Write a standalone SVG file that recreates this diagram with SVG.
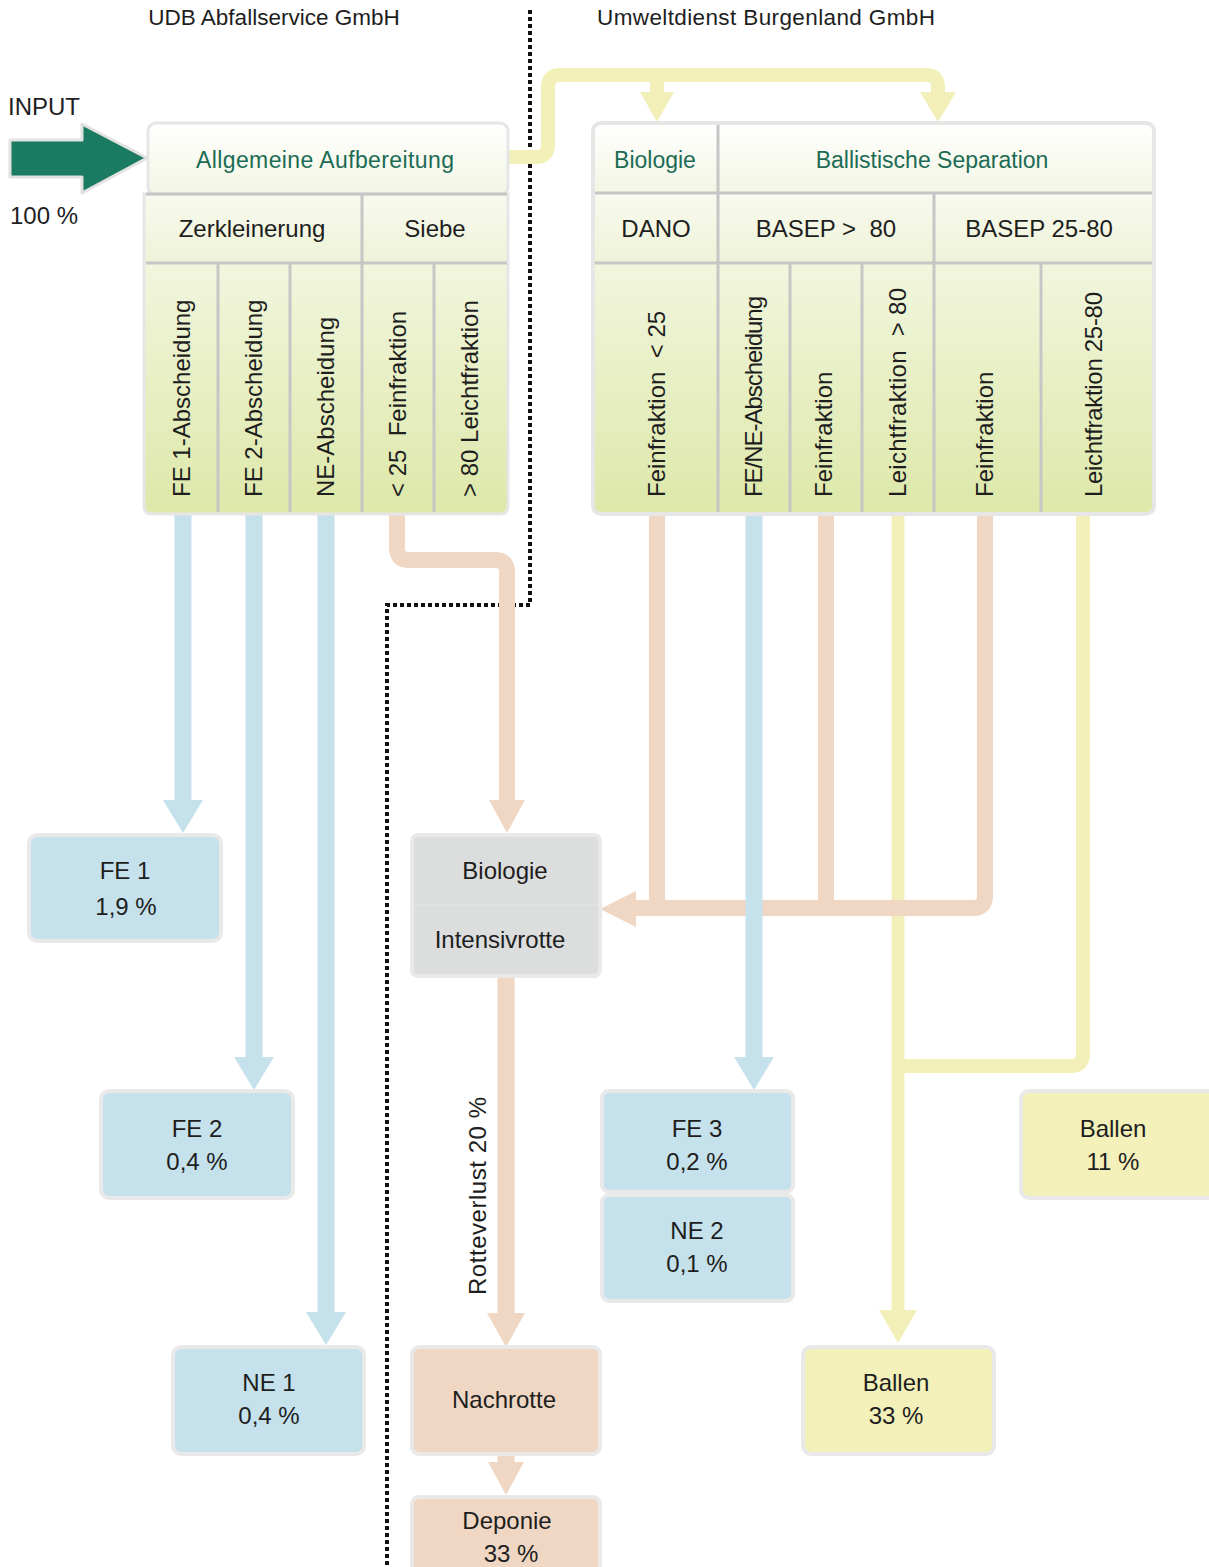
<svg xmlns="http://www.w3.org/2000/svg" width="1209" height="1567" viewBox="0 0 1209 1567">
<defs>
<linearGradient id="hdr" x1="0" y1="0" x2="0" y2="1"><stop offset="0" stop-color="#ffffff"/><stop offset="1" stop-color="#f2f6e3"/></linearGradient>
<linearGradient id="row2" x1="0" y1="0" x2="0" y2="1"><stop offset="0" stop-color="#f8faee"/><stop offset="1" stop-color="#eef3d8"/></linearGradient>
<linearGradient id="row3" x1="0" y1="0" x2="0" y2="1"><stop offset="0" stop-color="#f1f6de"/><stop offset="1" stop-color="#dde8a9"/></linearGradient>
<style>
.t{font-family:"Liberation Sans",Arial,sans-serif;fill:#1e1e1e;font-size:24px}
.c{text-anchor:middle}
.h{fill:#1c6b55;font-size:23px}
.s{font-size:22.5px}
.div{stroke:#c6c6c6;stroke-width:3}
.frame{fill:none;stroke:#e6e6e6;stroke-width:4}
.box{stroke:#e9e9e9;stroke-width:4}
.blue{fill:#c5e1eb}
.yel{fill:#f4f0ba}
.pch{fill:#efd7c4}
.cb{fill:none;stroke:#c5e1eb;stroke-width:17}
.cy{fill:none;stroke:#f3efb9;stroke-width:14;stroke-linejoin:round}
.cp{fill:none;stroke:#efd7c4;stroke-width:16;stroke-linejoin:round}
.hb{fill:#c5e1eb}
.hy{fill:#f3efb9}
.hp{fill:#efd7c4}
</style>
</defs>
<rect width="1209" height="1567" fill="#ffffff"/>

<g id="labels">
<text class="t s c" x="274" y="25">UDB Abfallservice GmbH</text>
<text class="t s c" x="766" y="25" textLength="338">Umweltdienst Burgenland GmbH</text>
<text class="t" x="8" y="115">INPUT</text>
<text class="t" x="10" y="224">100 %</text>
</g>

<g id="separator">
<path d="M530,10 V605 H387 V1567" fill="none" stroke="#111" stroke-width="4" stroke-dasharray="4 3"/>
</g>

<g id="input-arrow">
<polygon points="10,140 82,140 82,124 147,158 82,193 82,177 10,177" fill="#1b7a62" stroke="#e2e2e2" stroke-width="3" stroke-linejoin="round"/>
</g>

<g id="connectors">
<path class="cy" d="M506,157 H536 Q548,157 548,145 V87 Q548,75 560,75 H926 Q938,75 938,87 V94"/>
<path class="cy" d="M657,75 V94"/>
<polygon class="hy" points="920,92 956,92 938,122"/>
<polygon class="hy" points="640,92 674,92 657,122"/>
<path class="cb" d="M183,515 V801"/>
<polygon class="hb" points="163,800 203,800 183,833"/>
<path class="cb" d="M254,515 V1058"/>
<polygon class="hb" points="234,1057 274,1057 254,1090"/>
<path class="cb" d="M326,515 V1313"/>
<polygon class="hb" points="306,1312 346,1312 326,1345"/>
<path class="cp" d="M397,515 V548 Q397,560 409,560 H495 Q507,560 507,572 V801"/>
<polygon class="hp" points="489,800 525,800 507,833"/>
<path class="cy" d="M898,515 V1312" style="stroke-width:13"/>
<path class="cy" d="M1083,515 V1054 Q1083,1066 1071,1066 H898" style="stroke-width:14"/>
<polygon class="hy" points="879,1310 917,1310 898,1343"/>
<path class="cp" d="M657,515 V908"/>
<path class="cp" d="M826,515 V908"/>
<path class="cp" d="M985,515 V896 Q985,908 973,908 H634"/>
<polygon class="hp" points="636,891 636,927 600,909"/>
<path class="cb" d="M754,515 V1058"/>
<polygon class="hb" points="734,1057 774,1057 754,1090"/>
<path class="cp" d="M506,977 V1314" style="stroke-width:17"/>
<polygon class="hp" points="487,1313 525,1313 506,1347"/>
<path class="cp" d="M506,1455 V1463" style="stroke-width:17"/>
<polygon class="hp" points="488,1462 524,1462 506,1495"/>
<text class="t c" transform="translate(486,1196) rotate(-90)" textLength="198">Rotteverlust 20 %</text>
</g>

<g id="allgemeine-aufbereitung">
<rect x="148" y="123" width="360" height="72" rx="8" fill="url(#hdr)" stroke="#e6e6e6" stroke-width="3"/>
<rect x="145" y="195" width="362" height="68" fill="url(#row2)"/>
<path d="M145,263 H507 V505 Q507,513 499,513 H153 Q145,513 145,505 Z" fill="url(#row3)"/>
<path d="M144,194 H508 V506 Q508,514 500,514 H152 Q144,514 144,506 Z" class="frame" style="stroke-width:3"/>
<line class="div" x1="146" y1="194" x2="507" y2="194"/>
<line class="div" x1="146" y1="263" x2="507" y2="263"/>
<line class="div" x1="362" y1="194" x2="362" y2="512"/>
<line class="div" x1="218" y1="263" x2="218" y2="512"/>
<line class="div" x1="290" y1="263" x2="290" y2="512"/>
<line class="div" x1="434" y1="263" x2="434" y2="512"/>
<text class="t h c" x="325" y="168" textLength="258">Allgemeine Aufbereitung</text>
<text class="t c" x="252" y="237">Zerkleinerung</text>
<text class="t c" x="435" y="237">Siebe</text>
<text class="t" transform="translate(190,497) rotate(-90)">FE 1-Abscheidung</text>
<text class="t" transform="translate(262,497) rotate(-90)">FE 2-Abscheidung</text>
<text class="t" transform="translate(334,497) rotate(-90)">NE-Abscheidung</text>
<text class="t" transform="translate(406,497) rotate(-90)" xml:space="preserve">&lt; 25  Feinfraktion</text>
<text class="t" transform="translate(478,497) rotate(-90)">&gt; 80 Leichtfraktion</text>
</g>

<g id="umweltdienst">
<path d="M593,131 Q593,123 601,123 H1146 Q1154,123 1154,131 V193 H593 Z" fill="url(#hdr)"/>
<rect x="593" y="193" width="561" height="70" fill="url(#row2)"/>
<path d="M593,263 H1154 V505 Q1154,513 1146,513 H601 Q593,513 593,505 Z" fill="url(#row3)"/>
<rect x="593" y="123" width="561" height="391" rx="8" class="frame"/>
<line class="div" x1="595" y1="193" x2="1152" y2="193"/>
<line class="div" x1="595" y1="263" x2="1152" y2="263"/>
<line class="div" x1="718" y1="125" x2="718" y2="512"/>
<line class="div" x1="934" y1="193" x2="934" y2="512"/>
<line class="div" x1="790" y1="263" x2="790" y2="512"/>
<line class="div" x1="862" y1="263" x2="862" y2="512"/>
<line class="div" x1="1041" y1="263" x2="1041" y2="512"/>
<text class="t h c" x="655" y="168">Biologie</text>
<text class="t h c" x="932" y="168">Ballistische Separation</text>
<text class="t c" x="656" y="237">DANO</text>
<text class="t c" x="826" y="237" xml:space="preserve">BASEP &gt;  80</text>
<text class="t c" x="1039" y="237">BASEP 25-80</text>
<text class="t" transform="translate(665,497) rotate(-90)" xml:space="preserve">Feinfraktion  &lt; 25</text>
<text class="t" transform="translate(762,497) rotate(-90)" textLength="201">FE/NE-Abscheidung</text>
<text class="t" transform="translate(832,497) rotate(-90)">Feinfraktion</text>
<text class="t" transform="translate(906,497) rotate(-90)" xml:space="preserve" textLength="209">Leichtfraktion  &gt; 80</text>
<text class="t" transform="translate(993,497) rotate(-90)">Feinfraktion</text>
<text class="t" transform="translate(1102,497) rotate(-90)" textLength="205">Leichtfraktion 25-80</text>
</g>

<g id="fe1">
<rect class="box blue" x="29" y="835" width="192" height="106" rx="8"/>
<text class="t c" x="125" y="879">FE 1</text>
<text class="t c" x="126" y="915">1,9 %</text>
</g>
<g id="fe2">
<rect class="box blue" x="101" y="1091" width="192" height="107" rx="8"/>
<text class="t c" x="197" y="1137">FE 2</text>
<text class="t c" x="197" y="1170">0,4 %</text>
</g>
<g id="ne1">
<rect class="box blue" x="173" y="1347" width="191" height="107" rx="8"/>
<text class="t c" x="269" y="1391">NE 1</text>
<text class="t c" x="269" y="1424">0,4 %</text>
</g>
<g id="biologie-intensivrotte">
<rect class="box" x="412" y="835" width="188" height="141" rx="6" fill="#dcdddd"/>
<line x1="414" y1="905" x2="598" y2="905" stroke="#e1e2e2" stroke-width="2"/>
<text class="t c" x="505" y="879">Biologie</text>
<text class="t c" x="500" y="948">Intensivrotte</text>
</g>
<g id="nachrotte">
<rect class="box pch" x="412" y="1347" width="188" height="107" rx="7"/>
<text class="t c" x="504" y="1408">Nachrotte</text>
</g>
<g id="deponie">
<rect class="box pch" x="412" y="1497" width="188" height="80" rx="7"/>
<text class="t c" x="507" y="1529">Deponie</text>
<text class="t c" x="511" y="1562">33 %</text>
</g>
<g id="fe3">
<rect class="box blue" x="602" y="1091" width="191" height="101" rx="7"/>
<text class="t c" x="697" y="1137">FE 3</text>
<text class="t c" x="697" y="1170">0,2 %</text>
</g>
<g id="ne2">
<rect class="box blue" x="602" y="1195" width="191" height="106" rx="7"/>
<text class="t c" x="697" y="1239">NE 2</text>
<text class="t c" x="697" y="1272">0,1 %</text>
</g>
<g id="ballen-11">
<rect class="box yel" x="1021" y="1091" width="196" height="107" rx="8"/>
<text class="t c" x="1113" y="1137">Ballen</text>
<text class="t c" x="1113" y="1170">11 %</text>
</g>
<g id="ballen-33">
<rect class="box yel" x="803" y="1347" width="191" height="107" rx="8"/>
<text class="t c" x="896" y="1391">Ballen</text>
<text class="t c" x="896" y="1424">33 %</text>
</g>
</svg>
